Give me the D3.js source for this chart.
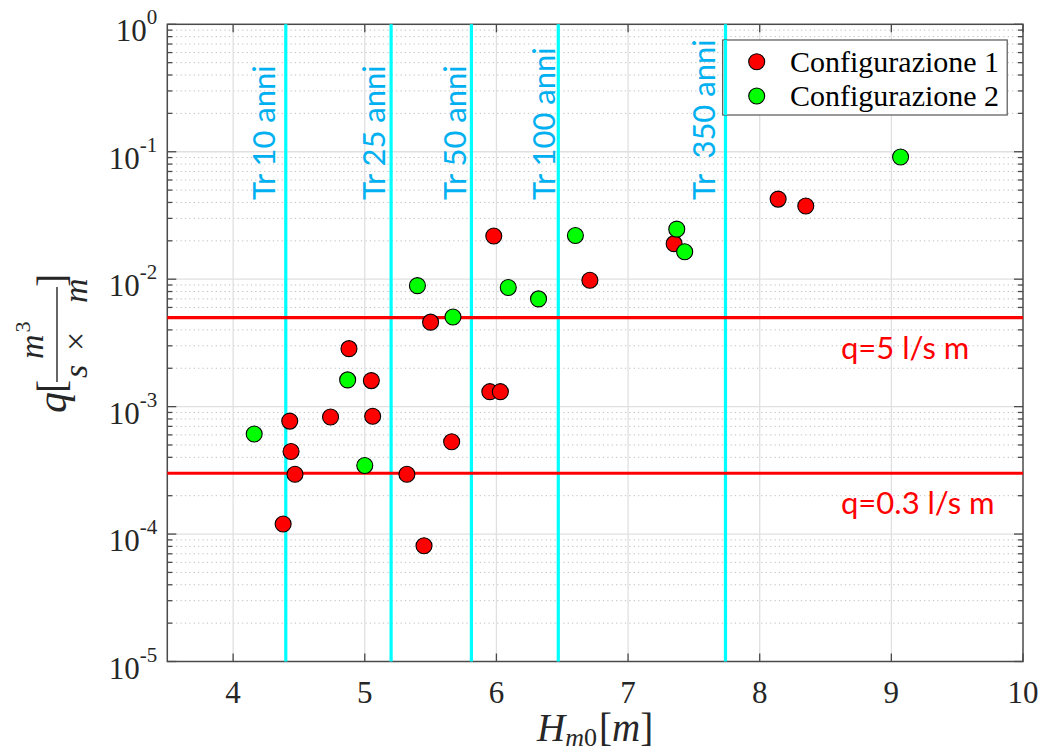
<!DOCTYPE html>
<html>
<head>
<meta charset="utf-8">
<script src="https://cdn.jsdelivr.net/npm/d3@7"></script>
<style>
  body { margin: 0; background: #fff; }
  svg { display: block; }
</style>
</head>
<body>
<svg width="1042" height="755"></svg>
<script>
// configurazione 1 (rossi)
let conf1Hm0 = [4.38, 4.43, 4.44, 4.47, 4.74, 4.88, 5.05, 5.06, 5.32, 5.45, 5.50, 5.66, 5.95, 6.03, 5.98, 6.71, 7.35, 8.14, 8.35];
let conf1Q   = [1.2e-4, 7.7e-4, 4.45e-4, 2.95e-4, 8.3e-4, 2.85e-3, 1.6e-3, 8.4e-4, 2.95e-4, 8.1e-5, 4.6e-3, 5.3e-4, 1.31e-3, 1.31e-3, 2.18e-2, 9.8e-3, 1.9e-2, 4.25e-2, 3.75e-2];
// configurazione 2 (verdi)
let conf2Hm0 = [4.16, 4.87, 5.00, 5.40, 5.67, 6.09, 6.32, 6.60, 7.37, 7.43, 9.07];
let conf2Q   = [6.1e-4, 1.62e-3, 3.45e-4, 8.9e-3, 5.05e-3, 8.6e-3, 7.0e-3, 2.2e-2, 2.47e-2, 1.64e-2, 9.1e-2];

let trLabels = ["Tr 10 anni", "Tr 25 anni", "Tr 50 anni", "Tr 100 anni", "Tr  350 anni"];
let trHm0    = [4.40, 5.20, 5.81, 6.47, 7.74];

let qLimits = [5e-3, 3e-4];
let qLabels = ["q=5 l/s m", "q=0.3 l/s m"];

let xTicks = [4, 5, 6, 7, 8, 9, 10];
let yExps  = [0, -1, -2, -3, -4, -5];
let seriesNames = ["Configurazione 1", "Configurazione 2"];

let pLeft = 167.3, pRight = 1023, pTop = 24.3, pBottom = 661.5;
let svg = d3.select('svg');

let x = d3.scaleLinear().domain([3.5, 10]).range([pLeft, pRight]);
let y = d3.scaleLog().domain([1e-5, 1]).range([pBottom, pTop]);

let serif = '"Liberation Serif", "Times New Roman", serif';
let sans = 'Lato, "Open Sans", sans-serif';

// grid
let minor = [];
yExps.slice(1).forEach(e => { for (let m = 2; m <= 9; m++) minor.push(m * Math.pow(10, e)); });

svg.append('g').selectAll('line').data(minor).enter().append('line')
  .attr('x1', pLeft).attr('x2', pRight)
  .attr('y1', d => y(d)).attr('y2', d => y(d))
  .attr('stroke', '#bdbdbd').attr('stroke-width', 1).attr('stroke-dasharray', '1.2,3.2');

svg.append('g').selectAll('line').data(yExps.slice(1, -1)).enter().append('line')
  .attr('x1', pLeft).attr('x2', pRight)
  .attr('y1', d => y(Math.pow(10, d))).attr('y2', d => y(Math.pow(10, d)))
  .attr('stroke', '#e0e0e0').attr('stroke-width', 1.3);

svg.append('g').selectAll('line').data(xTicks.slice(0, -1)).enter().append('line')
  .attr('x1', d => x(d)).attr('x2', d => x(d))
  .attr('y1', pTop).attr('y2', pBottom)
  .attr('stroke', '#e0e0e0').attr('stroke-width', 1.3);

// ticks
let axisCol = '#4a4a4a';
let tk = svg.append('g').attr('stroke', axisCol).attr('stroke-width', 1.3);
xTicks.forEach(d => {
  tk.append('line').attr('x1', x(d)).attr('x2', x(d)).attr('y1', pBottom).attr('y2', pBottom - 8);
  tk.append('line').attr('x1', x(d)).attr('x2', x(d)).attr('y1', pTop).attr('y2', pTop + 8);
});
yExps.forEach(e => {
  let v = y(Math.pow(10, e));
  tk.append('line').attr('x1', pLeft).attr('x2', pLeft + 9).attr('y1', v).attr('y2', v);
  tk.append('line').attr('x1', pRight).attr('x2', pRight - 9).attr('y1', v).attr('y2', v);
});
minor.forEach(d => {
  tk.append('line').attr('x1', pLeft).attr('x2', pLeft + 5).attr('y1', y(d)).attr('y2', y(d));
  tk.append('line').attr('x1', pRight).attr('x2', pRight - 5).attr('y1', y(d)).attr('y2', y(d));
});

// box
svg.append('rect').attr('x', pLeft).attr('y', pTop).attr('width', pRight - pLeft).attr('height', pBottom - pTop)
  .attr('fill', 'none').attr('stroke', axisCol).attr('stroke-width', 1.5);

// tick labels
svg.append('g').selectAll('text').data(xTicks).enter().append('text')
  .attr('x', d => x(d)).attr('y', pBottom + 41)
  .attr('text-anchor', 'middle')
  .style('font-family', serif).style('font-size', '31px').attr('fill', '#262626')
  .text(d => d);

let yl = svg.append('g').selectAll('text').data(yExps).enter().append('text')
  .attr('x', pLeft - 10).attr('y', d => y(Math.pow(10, d)) + 17)
  .attr('text-anchor', 'end')
  .style('font-family', serif).attr('fill', '#262626');
yl.append('tspan').style('font-size', '31px').text('10');
yl.append('tspan').style('font-size', '21px').attr('dy', -17).text(d => d === 0 ? '0' : '-' + (-d));

// return period lines
svg.append('g').selectAll('line').data(trHm0).enter().append('line')
  .attr('x1', d => x(d)).attr('x2', d => x(d)).attr('y1', pTop).attr('y2', pBottom)
  .attr('stroke', '#00ffff').attr('stroke-width', 3.2);

let trOffset = [11, 6.5, 5.5, 3.5, 10.5];
svg.append('g').selectAll('text').data(trLabels).enter().append('text')
  .attr('transform', (d, i) => 'translate(' + (x(trHm0[i]) - trOffset[i]) + ',200) rotate(-90)')
  .style('font-family', sans).style('font-size', '31px').style('white-space', 'pre')
  .attr('fill', '#00b0f0')
  .text(d => d);

// q limit lines
svg.append('g').selectAll('line').data(qLimits).enter().append('line')
  .attr('x1', pLeft).attr('x2', pRight).attr('y1', d => y(d)).attr('y2', d => y(d))
  .attr('stroke', '#ff0000').attr('stroke-width', 3.2);

svg.append('g').selectAll('text').data(qLabels).enter().append('text')
  .attr('x', 841).attr('y', (d, i) => y(qLimits[i]) + 41)
  .style('font-family', sans).style('font-size', '31px').attr('fill', '#ff0000')
  .text(d => d);

// points
function drawPoints(xs, ys, col) {
  svg.append('g').selectAll('circle').data(xs).enter().append('circle')
    .attr('cx', d => x(d)).attr('cy', (d, i) => y(ys[i])).attr('r', 8)
    .attr('fill', col).attr('stroke', '#000').attr('stroke-width', 1.1);
}
drawPoints(conf1Hm0, conf1Q, '#ff0000');
drawPoints(conf2Hm0, conf2Q, '#00ff00');

// legend
let lg = svg.append('g');
lg.append('rect').attr('x', 722.7).attr('y', 40).attr('width', 284.5).attr('height', 75)
  .attr('fill', '#fff').attr('stroke', '#555').attr('stroke-width', 1.2);
let lgCol = ['#ff0000', '#00ff00'];
seriesNames.forEach((s, i) => {
  lg.append('circle').attr('cx', 756.7).attr('cy', 61.7 + i * 34.3).attr('r', 8)
    .attr('fill', lgCol[i]).attr('stroke', '#000').attr('stroke-width', 1.1);
  lg.append('text').attr('x', 790).attr('y', 72 + i * 34.3)
    .style('font-family', serif).style('font-size', '30px').attr('fill', '#000')
    .text(s);
});
// cyan line over legend edge
svg.append('line').attr('x1', x(trHm0[4])).attr('x2', x(trHm0[4])).attr('y1', 40).attr('y2', 115)
  .attr('stroke', '#00ffff').attr('stroke-width', 3.2);

// x label
let xl = svg.append('text').attr('x', 537).attr('y', 741)
  .style('font-family', serif).attr('fill', '#262626');
xl.append('tspan').style('font-size', '39px').style('font-style', 'italic').text('H');
xl.append('tspan').style('font-size', '26px').style('font-style', 'italic').attr('dy', 5).text('m');
xl.append('tspan').style('font-size', '26px').text('0');
xl.append('tspan').style('font-size', '39px').attr('dy', -5).attr('dx', 2).text('[');
xl.append('tspan').style('font-size', '39px').style('font-style', 'italic').text('m');
xl.append('tspan').style('font-size', '39px').text(']');

// y label  q[ m^3 / (s x m) ]
let ylab = svg.append('g').attr('transform', 'translate(57,343) rotate(-90)')
  .style('font-family', serif).attr('fill', '#262626');
ylab.append('text').attr('x', -49).attr('y', 9).attr('text-anchor', 'end')
  .style('font-size', '42px').style('font-style', 'italic').text('q');
ylab.append('text').attr('x', -50).attr('y', 8).style('font-size', '40px').text('[');
ylab.append('text').attr('x', 56).attr('y', 8).style('font-size', '40px').text(']');
ylab.append('line').attr('x1', -39).attr('x2', 56).attr('y1', 0).attr('y2', 0)
  .attr('stroke', '#262626').attr('stroke-width', 1.4);
let num = ylab.append('text').attr('x', -16).attr('y', -14).style('font-size', '34px');
num.append('tspan').style('font-style', 'italic').text('m');
num.append('tspan').style('font-size', '22px').attr('dy', -13).attr('dx', 2).text('3');
ylab.append('text').attr('x', -35).attr('y', 30).style('font-size', '34px').style('font-style', 'italic').text('s');
ylab.append('text').attr('x', -8).attr('y', 30).style('font-size', '34px').text('×');
ylab.append('text').attr('x', 40).attr('y', 30).style('font-size', '34px').style('font-style', 'italic').text('m');
</script>
</body>
</html>
